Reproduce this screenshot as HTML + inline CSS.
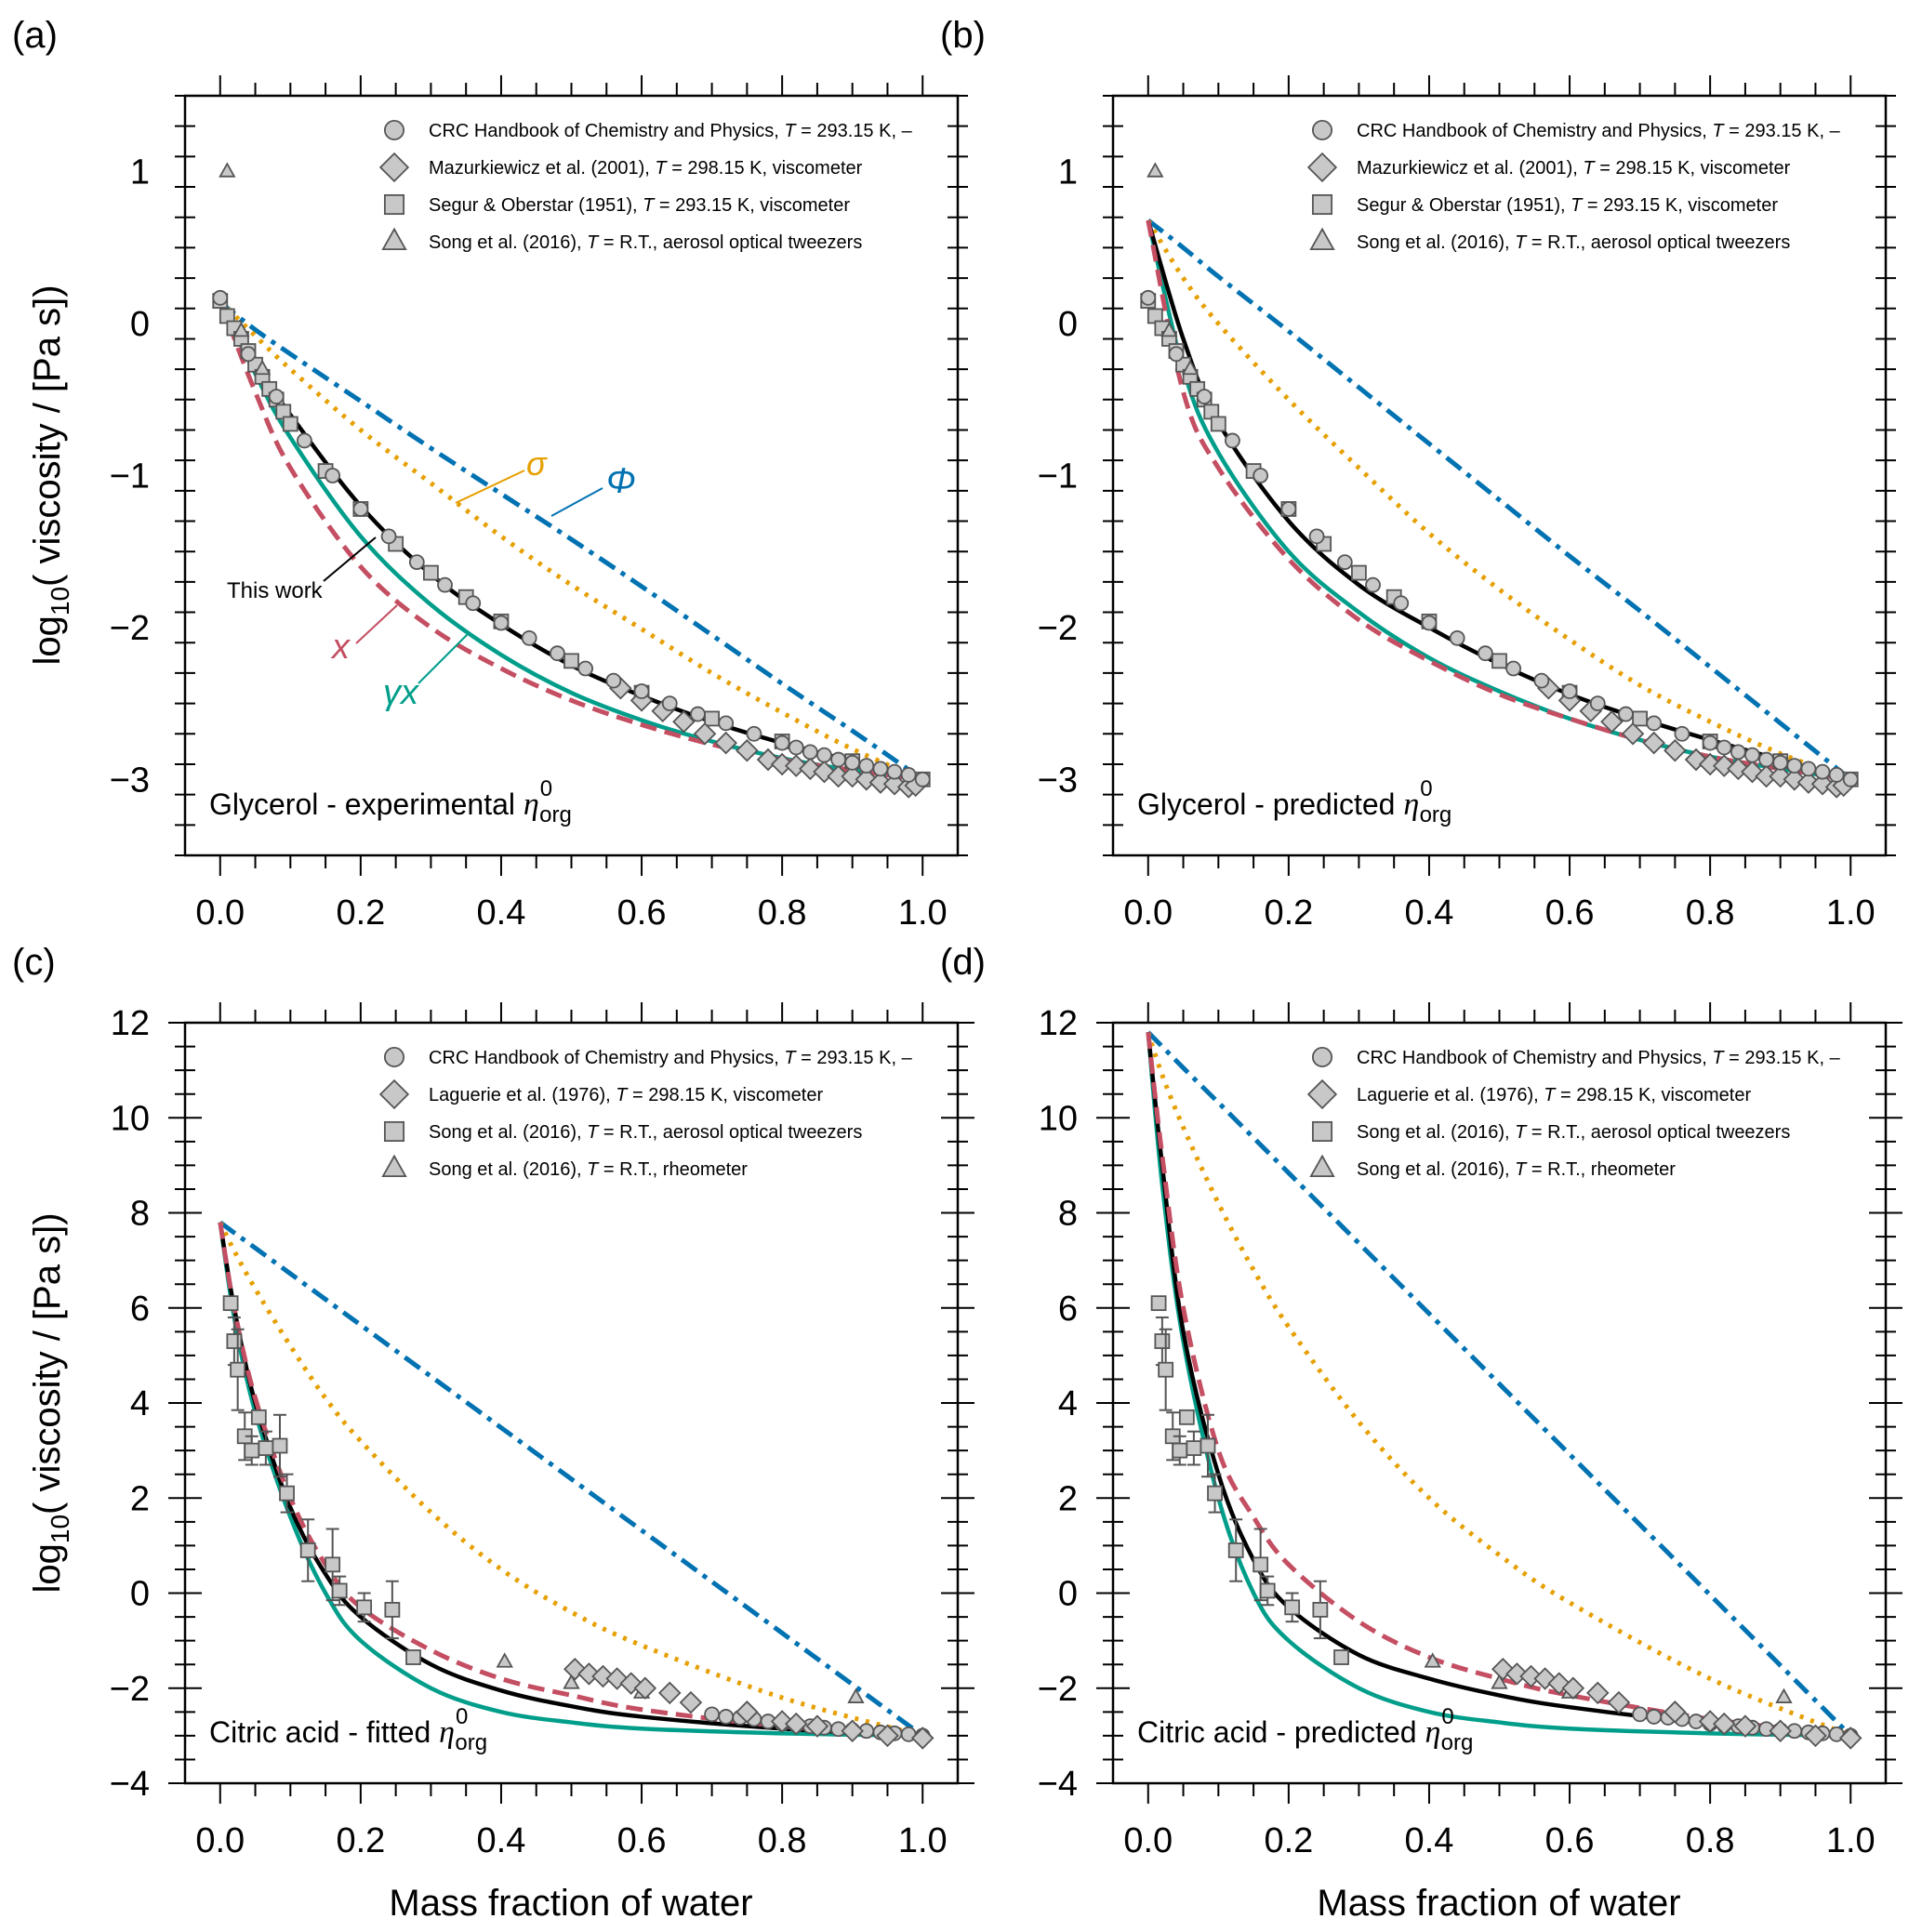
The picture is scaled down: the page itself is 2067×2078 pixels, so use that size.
<!DOCTYPE html>
<html><head><meta charset="utf-8"><style>
html,body{margin:0;padding:0;background:#fff}
svg{display:block}
text{font-family:"Liberation Sans",sans-serif}
</style></head><body>
<svg id="chart" width="2067" height="2078" viewBox="0 0 2067 2078" xmlns="http://www.w3.org/2000/svg"></svg>
<script>
// ---------- Glycerol data ----------
const glyCrcW=[0,0.04,0.08,0.12,0.16,0.2,0.24,0.28,0.32,0.36,0.4,0.44,0.48,0.52,0.56,0.6,0.64,0.68,0.72,0.76,0.8,0.82,0.84,0.86,0.88,0.9,0.92,0.94,0.96,0.98,1.0];
const glyCrcV=[0.17,-0.2,-0.48,-0.77,-1.0,-1.22,-1.4,-1.57,-1.72,-1.84,-1.97,-2.07,-2.17,-2.27,-2.35,-2.42,-2.5,-2.57,-2.63,-2.7,-2.76,-2.79,-2.82,-2.84,-2.87,-2.89,-2.91,-2.93,-2.95,-2.97,-3.0];
const glyMazW=[0.57,0.6,0.63,0.66,0.69,0.72,0.75,0.78,0.8,0.82,0.84,0.86,0.88,0.9,0.92,0.94,0.96,0.98,0.99];
const glyMazV=[-2.4,-2.48,-2.55,-2.62,-2.7,-2.76,-2.81,-2.87,-2.9,-2.91,-2.93,-2.95,-2.98,-2.98,-3.0,-3.02,-3.03,-3.05,-3.04];
const glySegW=[0,0.01,0.02,0.03,0.04,0.05,0.06,0.07,0.08,0.09,0.1,0.15,0.2,0.25,0.3,0.35,0.4,0.5,0.6,0.7,0.8,0.9,1.0];
const glySegV=[0.15,0.05,-0.03,-0.1,-0.18,-0.27,-0.35,-0.43,-0.5,-0.58,-0.66,-0.97,-1.22,-1.45,-1.64,-1.8,-1.96,-2.22,-2.43,-2.6,-2.75,-2.88,-3.0];
const glySongW=[0.01,0.03,0.06];
const glySongV=[1.0,-0.05,-0.3];
// Glycerol curves
const curveW=[0,0.05,0.1,0.2,0.3,0.4,0.5,0.6,0.7,0.8,0.9,1.0];
const aPhi=[0.14,-0.04,-0.2,-0.51,-0.82,-1.12,-1.42,-1.73,-2.05,-2.37,-2.68,-3.0];
const aSig=[0.15,-0.08,-0.3,-0.7,-1.05,-1.4,-1.72,-2.01,-2.3,-2.56,-2.8,-3.0];
const aBlk=[0.15,-0.25,-0.6,-1.2,-1.65,-1.98,-2.25,-2.45,-2.62,-2.76,-2.88,-3.0];
const aTeal=[0.15,-0.33,-0.75,-1.4,-1.85,-2.18,-2.43,-2.61,-2.75,-2.86,-2.94,-3.0];
const aRed=[0.15,-0.45,-0.95,-1.6,-2.0,-2.27,-2.48,-2.64,-2.77,-2.87,-2.94,-3.0];
const bPhi=[0.68,0.5,0.31,-0.05,-0.42,-0.79,-1.16,-1.53,-1.89,-2.26,-2.63,-3.0];
const bSig=[0.68,0.3,-0.0,-0.5,-0.95,-1.38,-1.75,-2.08,-2.38,-2.62,-2.83,-3.0];
const bBlk=[0.68,-0.1,-0.65,-1.3,-1.72,-2.0,-2.24,-2.44,-2.6,-2.74,-2.87,-3.0];
const bTeal=[0.68,-0.3,-0.85,-1.5,-1.9,-2.2,-2.42,-2.6,-2.74,-2.85,-2.93,-3.0];
const bRed=[0.68,-0.45,-0.95,-1.55,-1.95,-2.22,-2.44,-2.6,-2.74,-2.85,-2.93,-3.0];
// ---------- Citric acid data ----------
const citSqW=[0.015,0.02,0.025,0.035,0.045,0.055,0.065,0.085,0.095,0.125,0.16,0.17,0.205,0.245,0.275];
const citSqV=[6.1,5.3,4.7,3.3,3.0,3.7,3.05,3.1,2.1,0.9,0.6,0.05,-0.3,-0.35,-1.35];
const citSqErr=[0.1,0.5,0.85,0.5,0.3,0.1,0.35,0.65,0.4,0.65,0.75,0.3,0.3,0.6,0.1];
const citTriW=[0.405,0.5,0.6,0.905];
const citTriV=[-1.45,-1.9,-2.1,-2.2];
const citLagW=[0.505,0.525,0.545,0.565,0.585,0.605,0.64,0.67,0.75,0.8,0.82,0.85,0.9,0.95,1.0];
const citLagV=[-1.6,-1.7,-1.75,-1.8,-1.9,-2.0,-2.1,-2.3,-2.5,-2.7,-2.75,-2.8,-2.9,-3.0,-3.05];
const citCrcW=[0.7,0.72,0.74,0.76,0.78,0.8,0.82,0.84,0.86,0.88,0.9,0.92,0.94,0.96,0.98,1.0];
const citCrcV=[-2.55,-2.6,-2.62,-2.65,-2.7,-2.75,-2.78,-2.8,-2.83,-2.86,-2.88,-2.9,-2.93,-2.95,-2.97,-3.0];
const citW=[0,0.02,0.05,0.1,0.15,0.2,0.3,0.4,0.5,0.6,0.8,1.0];
const cPhi=[7.8,7.58,7.26,6.72,6.18,5.64,4.56,3.48,2.4,1.32,-0.84,-3.0];
const cSig=[7.8,7.2,6.4,5.2,4.1,3.2,1.7,0.5,-0.4,-1.1,-2.2,-3.0];
const cBlk=[7.8,6.0,4.0,1.8,0.4,-0.5,-1.5,-2.05,-2.38,-2.6,-2.85,-3.0];
const cTeal=[7.8,5.8,3.8,1.6,0.0,-1.0,-2.0,-2.5,-2.72,-2.85,-2.95,-3.0];
const cRed=[7.8,6.0,4.1,2.0,0.6,-0.3,-1.2,-1.8,-2.15,-2.45,-2.8,-3.0];
const dPhi=[11.8,11.5,11.05,10.32,9.58,8.84,7.36,5.88,4.4,2.92,-0.04,-3.0];
const dSig=[11.8,10.9,9.8,8.2,6.8,5.6,3.6,2.0,0.8,-0.2,-1.8,-3.0];
const dBlk=[11.8,9.0,5.5,2.5,0.7,-0.3,-1.3,-1.8,-2.15,-2.4,-2.75,-3.0];
const dTeal=[11.8,8.6,5.3,2.0,0.0,-1.0,-2.0,-2.5,-2.72,-2.85,-2.95,-3.0];
const dRed=[11.8,9.2,6.0,3.0,1.6,0.6,-0.6,-1.35,-1.8,-2.15,-2.65,-3.0];
const xTickLabels=["0.0","0.2","0.4","0.6","0.8","1.0"];
const glyYTicks=[1,0,-1,-2,-3];
const citYTicks=[12,10,8,6,4,2,0,-2,-4];

const NS="http://www.w3.org/2000/svg";
const svg=document.getElementById('chart');
function el(tag,attrs,parent){const e=document.createElementNS(NS,tag);for(const k in attrs)e.setAttribute(k,attrs[k]);(parent||svg).appendChild(e);return e;}
const fmt=v=>(v<0?'\u2212':'')+Math.abs(v);

const COL={blue:'#0072B2',orange:'#E69F00',red:'#C44E62',teal:'#009E8A',black:'#000'};

function panel(cfg){
  const g=el('g',{});
  
  
  const L=cfg.x0,R=cfg.x1,T=cfg.y0,B=cfg.y1;
  const xs=v=>L+(v+0.05)/1.1*(R-L);
  const ys=v=>T+(cfg.ymax-v)/(cfg.ymax-cfg.ymin)*(B-T);
  const cid='clip-'+cfg.name;
  const defs=el('defs',{},g);const cp=el('clipPath',{id:cid},defs);el('rect',{x:L,y:T,width:R-L,height:B-T},cp);
  const tk=el('g',{stroke:'#000','stroke-width':2},g);
  
  for(let i=0;i<=20;i++){const v=i*0.05,X=xs(v),maj=i%4==0,len=maj?22:14;
    el('line',{x1:X,x2:X,y1:T,y2:T-len},tk);el('line',{x1:X,x2:X,y1:B,y2:B+len},tk);}
  const nmin=Math.round((cfg.ymax-cfg.ymin)/cfg.minor);
  for(let i=0;i<=nmin;i++){const v=cfg.ymin+i*cfg.minor,Y=ys(v),maj=Math.abs(v/cfg.major-Math.round(v/cfg.major))<1e-6,len=maj?18:11;
    el('line',{x1:L-len,x2:L+len,y1:Y,y2:Y},tk);el('line',{x1:R-len,x2:R+len,y1:Y,y2:Y},tk);}
  el('rect',{x:L,y:T,width:R-L,height:B-T,fill:'none',stroke:'#000','stroke-width':2.5},g);
  xTickLabels.forEach((t,i)=>{const tx=el('text',{x:xs(i*0.2),y:B+74,'font-size':38,'text-anchor':'middle'},g);tx.textContent=t;
    });
  cfg.yticks.forEach(v=>{const tx=el('text',{x:L-38,y:ys(v)+13,'font-size':38,'text-anchor':'end'},g);tx.textContent=fmt(v);
    });
  const cg=el('g',{'clip-path':`url(#${cid})`,fill:'none','stroke-width':4.5},g);
  function path(ws,vs){const p=ws.map((w,i)=>[xs(w),ys(vs[i])]);let d=`M${p[0][0]},${p[0][1]}`;
    for(let i=0;i<p.length-1;i++){const p0=p[Math.max(0,i-1)],p1=p[i],p2=p[i+1],p3=p[Math.min(p.length-1,i+2)];
      const c1=[p1[0]+(p2[0]-p0[0])/6,p1[1]+(p2[1]-p0[1])/6],c2=[p2[0]-(p3[0]-p1[0])/6,p2[1]-(p3[1]-p1[1])/6];
      d+=`C${c1[0]},${c1[1]} ${c2[0]},${c2[1]} ${p2[0]},${p2[1]}`;}return d;}
  const c=cfg.curves;
  let e;
  e=el('path',{d:path(cfg.cw,c.phi),stroke:COL.blue,'stroke-width':5,'stroke-dasharray':'20 8 5 8'},cg);
  e=el('path',{d:path(cfg.cw,c.sig),stroke:COL.orange,'stroke-width':5,'stroke-dasharray':'4 8'},cg);
  e=el('path',{d:path(cfg.cw,c.teal),stroke:COL.teal},cg);
  e=el('path',{d:path(cfg.cw,c.blk),stroke:COL.black},cg);
  e=el('path',{d:path(cfg.cw,c.red),stroke:COL.red,'stroke-width':5,'stroke-dasharray':'18 9'},cg);
  const mg=el('g',{fill:'#c8c8c8',stroke:'#555','stroke-width':1.8},g);
  function mark(type,X,Y,s,parent){s=s||1;let m;
    if(type=='c')m=el('circle',{cx:X,cy:Y,r:7.5*s},parent);
    else if(type=='s')m=el('rect',{x:X-7.5*s,y:Y-7.5*s,width:15*s,height:15*s},parent);
    else if(type=='d')m=el('polygon',{points:`${X},${Y-11*s} ${X+11*s},${Y} ${X},${Y+11*s} ${X-11*s},${Y}`},parent);
    else m=el('polygon',{points:`${X},${Y-10*s} ${X+9*s},${Y+6*s} ${X-9*s},${Y+6*s}`},parent);
    return m;}
  cfg.series.forEach(sr=>{
    sr.w.forEach((w,i)=>{const X=xs(w),Y=ys(sr.v[i]);
      if(sr.err){const eb=el('g',{stroke:'#555','stroke-width':2},mg);
        el('line',{x1:X,x2:X,y1:ys(sr.v[i]+sr.err[i]),y2:ys(sr.v[i]-sr.err[i])},eb);
        el('line',{x1:X-7,x2:X+7,y1:ys(sr.v[i]+sr.err[i]),y2:ys(sr.v[i]+sr.err[i])},eb);
        el('line',{x1:X-7,x2:X+7,y1:ys(sr.v[i]-sr.err[i]),y2:ys(sr.v[i]-sr.err[i])},eb);}
      const m=mark(sr.type,X,Y,sr.size||1,mg);
      });
  });
  const lg=el('g',{},g);
  cfg.legend.forEach((it,i)=>{const Y=T+37+i*40;
    const m=mark(it.type,L+225,Y,1.35,lg);m.setAttribute('fill','#c8c8c8');m.setAttribute('stroke','#555');m.setAttribute('stroke-width',1.8);
    const t=el('text',{x:L+262,y:Y+7,'font-size':20},lg);t.innerHTML=it.html;
    });
  const tt=el('text',{x:L+26,y:B-44,'font-size':32},g);
  tt.innerHTML=cfg.title+' <tspan font-family="Liberation Serif" font-style="italic" font-size="34">η</tspan><tspan font-size="24" dy="-20" dx="1">0</tspan><tspan font-size="24" dy="28" dx="-14">org</tspan>';
  
  const pl=el('text',{x:L-186,y:T-52,'font-size':40},g);pl.textContent=cfg.label;
  
  return {g,xs,ys};
}
const I=s=>`<tspan font-style="italic">${s}</tspan>`;
const glyLegend=[
 {type:'c',html:`CRC Handbook of Chemistry and Physics,  ${I('T')} = 293.15 K,  –`},
 {type:'d',html:`Mazurkiewicz et al. (2001),  ${I('T')} = 298.15 K,  viscometer`},
 {type:'s',html:`Segur &amp; Oberstar (1951),  ${I('T')} = 293.15 K,  viscometer`},
 {type:'t',html:`Song et al. (2016),  ${I('T')} = R.T.,  aerosol optical tweezers`}];
const citLegend=[
 {type:'c',html:`CRC Handbook of Chemistry and Physics,  ${I('T')} = 293.15 K,  –`},
 {type:'d',html:`Laguerie et al. (1976),  ${I('T')} = 298.15 K,  viscometer`},
 {type:'s',html:`Song et al. (2016),  ${I('T')} = R.T.,  aerosol optical tweezers`},
 {type:'t',html:`Song et al. (2016),  ${I('T')} = R.T.,   rheometer`}];
const glySeries=[
 {type:'s',w:glySegW,v:glySegV,mname:'segur-point'},
 {type:'d',w:glyMazW,v:glyMazV,mname:'mazurkiewicz-point'},
 {type:'c',w:glyCrcW,v:glyCrcV,mname:'crc-point'},
 {type:'t',w:glySongW,v:glySongV,size:0.85,mname:'song-point'}];
const citSeries=[
 {type:'s',w:citSqW,v:citSqV,err:citSqErr,mname:'song-aot-point'},
 {type:'t',w:citTriW,v:citTriV,size:0.85,mname:'song-rheometer-point'},
 {type:'c',w:citCrcW,v:citCrcV,mname:'crc-point'},
 {type:'d',w:citLagW,v:citLagV,mname:'laguerie-point'}];
const glyCfg={ymin:-3.5,ymax:1.5,major:1,minor:0.2,yticks:glyYTicks,cw:curveW,legend:glyLegend,series:glySeries};
const citCfg={ymin:-4,ymax:12,major:2,minor:0.5,yticks:citYTicks,cw:citW,legend:citLegend,series:citSeries};
panel(Object.assign({},glyCfg,{name:'panel-a',label:'(a)',x0:199,x1:1030,y0:103,y1:920,title:'Glycerol - experimental',curves:{phi:aPhi,sig:aSig,blk:aBlk,teal:aTeal,red:aRed}}));
panel(Object.assign({},glyCfg,{name:'panel-b',label:'(b)',x0:1197,x1:2028,y0:103,y1:920,title:'Glycerol - predicted',curves:{phi:bPhi,sig:bSig,blk:bBlk,teal:bTeal,red:bRed}}));
panel(Object.assign({},citCfg,{name:'panel-c',label:'(c)',x0:199,x1:1030,y0:1100,y1:1918,title:'Citric acid - fitted',curves:{phi:cPhi,sig:cSig,blk:cBlk,teal:cTeal,red:cRed}}));
panel(Object.assign({},citCfg,{name:'panel-d',label:'(d)',x0:1197,x1:2028,y0:1100,y1:1918,title:'Citric acid - predicted',curves:{phi:dPhi,sig:dSig,blk:dBlk,teal:dTeal,red:dRed}}));

const an=el('g',{'stroke-width':2});
el('line',{x1:490,y1:541,x2:564,y2:506,stroke:COL.orange},an);
el('line',{x1:593,y1:555,x2:648,y2:525,stroke:COL.blue},an);
el('line',{x1:348,y1:625,x2:404,y2:578,stroke:'#000'},an);
el('line',{x1:383,y1:692,x2:427,y2:651,stroke:COL.red},an);
el('line',{x1:450,y1:735,x2:503,y2:682,stroke:COL.teal},an);
function lab(x,y,txt,col,name,serif,fs){const t=el('text',{x,y,fill:col,'font-size':fs,'font-style':serif?'italic':'normal','font-family':serif?'Liberation Serif, serif':'Liberation Sans, sans-serif'});t.textContent=txt;
 }
lab(566,511,'σ',COL.orange,'sigma-label',true,36);
lab(652,530,'Φ',COL.blue,'phi-label',true,38);
lab(244,643,'This work','#000','this-work-label',false,24);
lab(357,708,'x',COL.red,'x-label',true,38);
lab(412,757,'γx',COL.teal,'gamma-x-label',true,38);

function ytitle(cy,name){const t=el('text',{x:0,y:0,'font-size':40,'text-anchor':'middle',transform:`translate(64,${cy}) rotate(-90)`});
 t.innerHTML='log<tspan font-size="28" dy="10">10</tspan><tspan dy="-10">( viscosity / [Pa s])</tspan>';
 }
ytitle(511,'y-axis-title-top');ytitle(1509,'y-axis-title-bottom');
[614,1612].forEach(cx=>{const t=el('text',{x:cx,y:2060,'font-size':40,'text-anchor':'middle'});t.textContent='Mass fraction of water';
 });
</script>
</body></html>
